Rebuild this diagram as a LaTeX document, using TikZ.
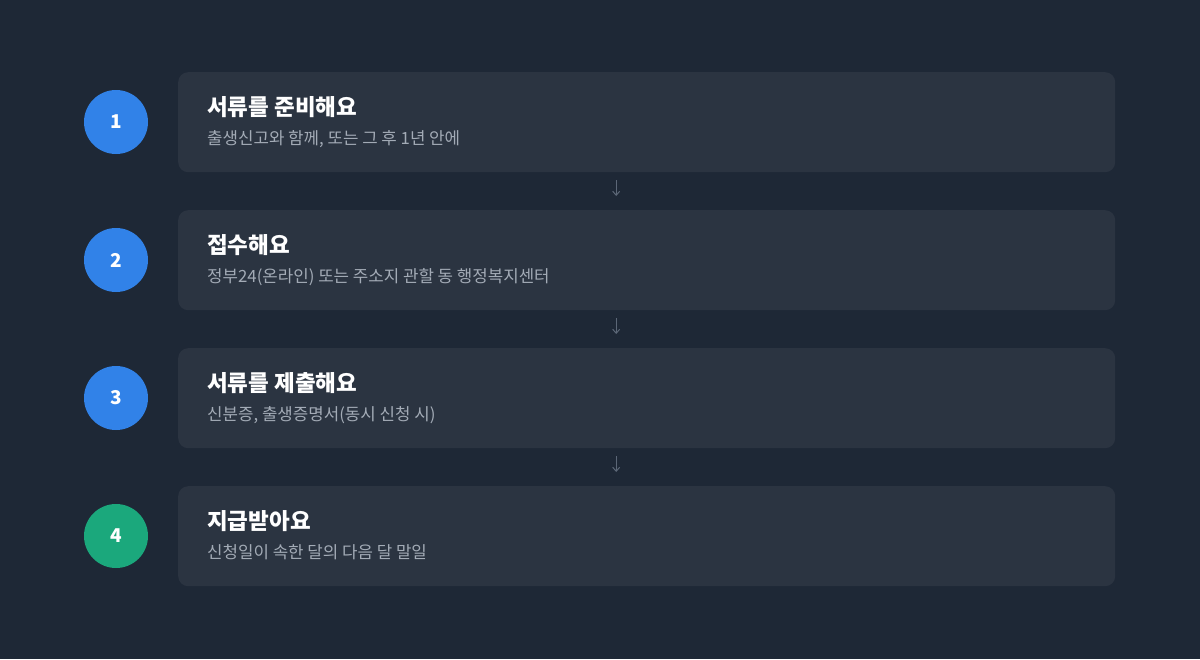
\documentclass[tikz,border=0pt]{standalone}
\usepackage{fontspec}
\newfontfamily\kr{Noto Sans CJK KR}
\usetikzlibrary{arrows.meta}
\definecolor{bgc}{HTML}{1E2836}
\definecolor{boxc}{HTML}{2B3441}
\definecolor{bluec}{HTML}{3182E8}
\definecolor{greenc}{HTML}{1BA87C}
\definecolor{subc}{HTML}{A3ABB6}
\definecolor{arrc}{HTML}{5C6777}
\tikzset{
  stepcard/.style={draw=none, fill=boxc, rounded corners=10pt, minimum width=937pt, minimum height=100pt, anchor=north west, inner sep=0pt},
  numdot/.style={circle, minimum size=64pt, inner sep=0pt, text=white, font=\kr\bfseries\fontsize{19}{19}\selectfont},
  titletext/.style={anchor=base west, text=white, font=\kr\bfseries\fontsize{22.5}{26}\selectfont, inner sep=0pt},
  subtext/.style={anchor=base west, text=subc, font=\kr\fontsize{16.8}{20}\selectfont, inner sep=0pt},
  flowarrow/.style={draw=arrc, line width=1pt, -{Straight Barb[length=4pt,width=7pt]}, shorten <=8pt, shorten >=14pt}
}
\begin{document}
\begin{tikzpicture}[x=1pt,y=-1pt]
\fill[bgc] (0,0) rectangle (1200,659);
\useasboundingbox (0,0) rectangle (1200,659);
\node[stepcard] (c1) at (178,72) {};
\node[stepcard] (c2) at (178,210) {};
\node[stepcard] (c3) at (178,348) {};
\node[stepcard] (c4) at (178,486) {};
\node[numdot, fill=bluec] (n1) at (116,122) {1};
\node[numdot, fill=bluec] (n2) at (116,260) {2};
\node[numdot, fill=bluec] (n3) at (116,398) {3};
\node[numdot, fill=greenc] (n4) at (116,536) {4};
\node[titletext] (t1) at (207,115) {서류를 준비해요};
\node[subtext] (s1) at (207,144) {출생신고와 함께, 또는 그 후 1년 안에};
\node[titletext] (t2) at (207,253) {접수해요};
\node[subtext] (s2) at (207,282) {정부24(온라인) 또는 주소지 관할 동 행정복지센터};
\node[titletext] (t3) at (207,391) {서류를 제출해요};
\node[subtext] (s3) at (207,420) {신분증, 출생증명서(동시 신청 시)};
\node[titletext] (t4) at (207,529) {지급받아요};
\node[subtext] (s4) at (207,558) {신청일이 속한 달의 다음 달 말일};
\draw[flowarrow] ([xshift=-30.5pt]c1.south) -- ([xshift=-30.5pt]c2.north);
\draw[flowarrow] ([xshift=-30.5pt]c2.south) -- ([xshift=-30.5pt]c3.north);
\draw[flowarrow] ([xshift=-30.5pt]c3.south) -- ([xshift=-30.5pt]c4.north);
\end{tikzpicture}
\end{document}
